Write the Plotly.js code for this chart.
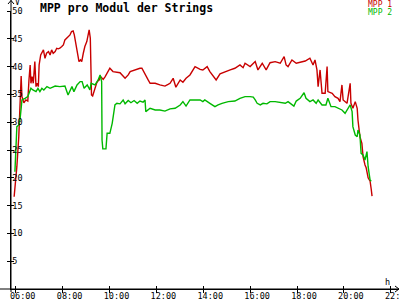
<!DOCTYPE html>
<html><head><meta charset="utf-8">
<script src="https://cdn.plot.ly/plotly-3.0.1.min.js"></script>
<style>html,body{margin:0;padding:0;background:#fff}#chart{width:400px;height:300px}</style>
</head><body><div id="chart"></div>
<script>
const chartTitle = "MPP pro Modul der Strings";
const seriesNames = ["MPP 1", "MPP 2"];
const yUnit = "V";
const xUnit = "h";
const xTickVals = ["06:00","08:00","10:00","12:00","14:00","16:00","18:00","20:00","22:00"];
const yTickVals = [5,10,15,20,25,30,35,40,45,50];

const times1 = ["05:56","05:58","06:03","06:08","06:12","06:14","06:16","06:21","06:26","06:31","06:34","06:37","06:39","06:42","06:45","06:48","06:49","06:52","06:55","06:58","07:00","07:04","07:08","07:11","07:15","07:19","07:24","07:28","07:32","07:36","07:41","07:45","07:49","07:53","07:58","08:02","08:06","08:11","08:15","08:19","08:23","08:27","08:30","08:34","08:39","08:42","08:46","08:49","08:53","08:57","09:02","09:06","09:08","09:11","09:14","09:17","09:20","09:24","09:27","09:30","09:34","09:36","09:40","09:44","09:49","09:54","10:01","10:09","10:17","10:27","10:40","10:48","10:53","11:05","11:18","11:23","11:31","11:39","11:44","11:57","12:09","12:22","12:30","12:35","12:43","12:50","13:01","13:08","13:16","13:26","13:39","13:47","13:52","13:59","14:10","14:17","14:25","14:33","14:43","14:56","15:09","15:21","15:34","15:42","15:47","16:00","16:13","16:20","16:31","16:41","16:51","17:04","17:17","17:27","17:32","17:37","17:47","17:58","18:08","18:21","18:33","18:41","18:46","18:51","18:54","18:59","19:04","19:12","19:17","19:19","19:30","19:37","19:45","19:50","19:55","19:58","20:08","20:16","20:18","20:23","20:29","20:34","20:36","20:39","20:41","20:46","20:49","20:54","20:57","21:02","21:07","21:10","21:12"];
const mpp1 = [16.6,18,22,27.5,33,38.3,34.6,33.5,34,33.8,37.6,40.3,37,38.2,37,39.4,40.9,36.4,37,36.4,40.3,42.1,42.7,43,41.5,42.4,42.7,42.1,43,42.4,42.7,43.3,43.2,43.3,43.6,43.9,44.8,45.1,45.4,45.7,46.3,46.4,45.7,44.2,42.7,40.9,41.2,40.9,42.4,43.6,44.5,46,46.6,45.1,34.9,34.7,35.5,36.4,37,37.4,37.6,38.3,37.9,37.7,38.2,38.8,39.7,39.1,39.0,38.9,37.9,38.5,39.1,39.4,39.7,39.7,38.5,37.6,37,37,36.7,36.5,36.8,37,37.9,36.3,37.6,37.2,37.9,38.5,40.0,39.6,39.5,39.4,40,39.1,38.3,37.6,38.7,39.1,39.4,39.7,40.3,39.8,40.6,40,40.9,39.4,40.6,39.4,40.7,40.9,40.6,41.8,40.3,40,41.2,40.6,40.8,41,41.5,40.3,41.2,39.4,36.4,39.4,35.2,35.2,40,35.5,35.2,34.6,34.3,33.7,36.7,34,33.4,37,33.4,32.5,33.7,32.5,30.4,28.3,27.4,26.2,23.8,22.3,21.8,20,19.4,17.9,16.7];

const times2 = ["05:58","06:01","06:03","06:08","06:11","06:14","06:16","06:24","06:31","06:39","06:44","06:52","06:57","07:02","07:07","07:12","07:20","07:28","07:41","07:53","08:06","08:14","08:19","08:24","08:29","08:37","08:45","08:50","08:55","09:03","09:10","09:13","09:23","09:31","09:36","09:40","09:41","09:43","09:51","09:54","10:01","10:07","10:14","10:19","10:27","10:35","10:40","10:48","10:55","11:03","11:11","11:18","11:26","11:31","11:33","11:44","11:57","12:09","12:22","12:35","12:48","13:01","13:08","13:16","13:26","13:39","13:52","13:59","14:04","14:17","14:30","14:38","14:48","15:04","15:21","15:34","15:47","16:00","16:08","16:13","16:18","16:26","16:33","16:43","16:51","17:04","17:17","17:30","17:37","17:52","17:58","18:08","18:18","18:23","18:33","18:41","18:49","18:54","19:04","19:14","19:19","19:27","19:37","19:45","19:55","20:03","20:10","20:16","20:21","20:23","20:29","20:34","20:36","20:41","20:44","20:49","20:54","20:59","21:02","21:07","21:10"];
const mpp2 = [21.1,28.6,29.2,29.5,30.4,32.5,34,34.3,34.6,36.1,35.8,35.5,36.1,35.5,36.1,35.8,36.4,36.1,36.5,36.4,36.5,34.9,35.8,36.4,35.5,36.7,37.3,37.3,36.1,36.7,35.8,37,36.7,37.6,38.5,37.3,26.8,25.2,25.2,28,28,29.8,33.1,33.4,33.3,34,33.3,33.9,33.5,33.9,33.4,33.8,33.6,34,31.9,32.5,32.2,32.2,32,32.4,32.5,33.1,33.7,32.9,34,34,34,33.7,34,33.4,32.8,33.1,33.4,33.7,33.8,34.3,34.6,34.6,34.5,34,33.4,33.1,33.4,33.3,33.7,33.7,33.5,33.4,33.7,32.9,33.8,34.3,35.3,34.3,33.7,34,33.4,34,33.1,33.1,34.3,32.8,32.8,32.5,32.2,31.6,32.5,33.1,31.9,29.2,27.7,27.4,28.6,27.7,24.4,24.1,23.2,24.7,22,19.6,19.4];

const DAY = "2024-06-01 ";
const toX = arr => arr.map(t => DAY + t);
const RED = "#c80000", GREEN = "#00b800";
const FONT = "DejaVu Sans Mono";

// plot area in pixels
const W = 400, H = 300, L = 11, R = 1, T = 11, B = 11;
const pw = W - L - R, ph = H - T - B;
const px = x => (x - L) / pw;      // pixel -> paper x
const py = y => (H - B - y) / ph;  // pixel -> paper y

const traces = [
  {x: toX(times1), y: mpp1, name: seriesNames[0], mode: "lines", line: {color: RED, width: 1.4}, hoverinfo: "skip"},
  {x: toX(times2), y: mpp2, name: seriesNames[1], mode: "lines", line: {color: GREEN, width: 1.4}, hoverinfo: "skip"},
  // empty helper trace so the overlay axes (inner half of the crossing ticks) get drawn
  {x: [], y: [], xaxis: "x2", yaxis: "y2", mode: "lines", showlegend: false, hoverinfo: "skip"}
];

const xRange = [DAY + "05:48", DAY + "22:21"];
const axisFont = {family: FONT, size: 8.5, color: "#000"};

const shapes = [
  {type: "line", xref: "paper", yref: "paper", x0: 0, x1: 0, y0: py(292), y1: py(0), line: {color: "#000", width: 1}},
  {type: "line", xref: "paper", yref: "paper", x0: px(0), x1: px(399), y0: 0, y1: 0, line: {color: "#000", width: 1}},
  {type: "path", xref: "paper", yref: "paper", path: `M ${px(8)} ${py(4)} L ${px(11)} ${py(0.5)} L ${px(14)} ${py(4)}`, line: {color: "#000", width: 1}},
  {type: "path", xref: "paper", yref: "paper", path: `M ${px(395)} ${py(286)} L ${px(399)} ${py(289)} L ${px(395)} ${py(292)}`, line: {color: "#000", width: 1}}
];

const annotations = [
  {xref: "paper", yref: "paper", x: px(13), y: py(2.5), text: yUnit, showarrow: false, xanchor: "left", yanchor: "middle", font: {family: FONT, size: 8, color: "#000"}},
  {xref: "paper", yref: "paper", x: px(387), y: py(281.5), text: xUnit, showarrow: false, xanchor: "center", yanchor: "middle", font: {family: FONT, size: 8.5, color: "#000"}},
  {xref: "paper", yref: "paper", x: px(394), y: py(4.3), text: seriesNames[0], showarrow: false, xanchor: "right", yanchor: "middle", font: {family: FONT, size: 8, color: RED}},
  {xref: "paper", yref: "paper", x: px(394), y: py(12.3), text: seriesNames[1], showarrow: false, xanchor: "right", yanchor: "middle", font: {family: FONT, size: 8, color: GREEN}}
];

const layout = {
  width: W, height: H,
  margin: {l: L, r: R, t: T, b: B, pad: 0},
  paper_bgcolor: "#fff", plot_bgcolor: "#fff",
  showlegend: false,
  title: {text: "<b>" + chartTitle + "</b>", x: 40 / W, xref: "container", xanchor: "left", y: 1 - 7.5 / H, yref: "container", yanchor: "middle", font: {family: FONT, size: 11.5, color: "#000"}},
  xaxis: {type: "date", range: xRange, tickvals: toX(xTickVals), ticktext: xTickVals, showgrid: false, zeroline: false,
          showline: true, linecolor: "#000", linewidth: 1, ticks: "outside", ticklen: 3, tickcolor: "#000", tickwidth: 1,
          tickfont: axisFont, ticklabelshift: 7, ticklabelstandoff: -4, ticklabeloverflow: "allow", fixedrange: true},
  xaxis2: {type: "date", range: xRange, overlaying: "x", anchor: "y", side: "bottom", tickvals: toX(xTickVals), showticklabels: false,
          showgrid: false, zeroline: false, showline: false, ticks: "inside", ticklen: 3, tickcolor: "#000", tickwidth: 1, fixedrange: true},
  yaxis: {range: [0, 50], tickvals: yTickVals, showgrid: false, zeroline: false, showline: true, linecolor: "#000", linewidth: 1,
          ticks: "outside", ticklen: 3, tickcolor: "#000", tickwidth: 1, ticklabelposition: "inside", ticklabeloverflow: "allow",
          tickfont: axisFont, fixedrange: true},
  yaxis2: {range: [0, 50], overlaying: "y", anchor: "x", side: "left", tickvals: yTickVals, showticklabels: false,
          showgrid: false, zeroline: false, showline: false, ticks: "inside", ticklen: 3, tickcolor: "#000", tickwidth: 1, fixedrange: true},
  shapes: shapes,
  annotations: annotations
};

Plotly.newPlot("chart", traces, layout, {staticPlot: true, displayModeBar: false});
</script>
</body></html>
